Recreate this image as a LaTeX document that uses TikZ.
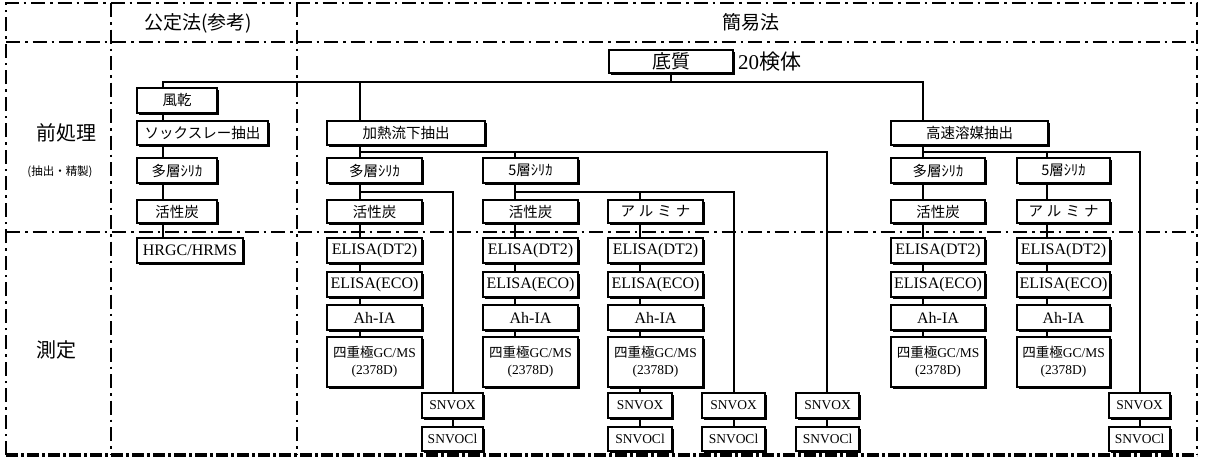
\documentclass[tikz,border=0pt]{standalone}
\usepackage{fontspec}
\setmainfont{Liberation Serif}
\newfontfamily\jp{Noto Sans CJK JP}
\usetikzlibrary{shadows}
\pgfdeclarelayer{bg}
\pgfsetlayers{bg,main}
\tikzset{
 bx/.style={draw, line width=1.5pt, fill=white, inner sep=0pt, outer sep=0pt, anchor=north west, align=center,
   drop shadow={shadow xshift=1.8pt, shadow yshift=-1.8pt, fill=black, opacity=1}},
 conn/.style={line width=1.3pt},
 div/.style={line width=1.5pt, dash pattern=on 14pt off 5pt on 2.5pt off 5pt},
 lat/.style={font=\fontsize{16}{18}\selectfont},
 jpt/.style={font=\jp\fontsize{14.5}{16}\selectfont},
 sm/.style={font=\fontsize{13.5}{16}\selectfont},
 gc/.style={font=\fontsize{13.5}{17}\selectfont},
}
\newcommand{\mybox}[7][lat]{\node[bx,#1,minimum width={(#5-#3)*1pt},minimum height={(#6-#4)*1pt}] (#2) at (#3,#4) {#7};}
\newcommand{\alm}{ア\hspace{4pt}ル\hspace{4pt}ミ\hspace{4pt}ナ}
\newcommand{\gcms}{{\jp 四重極}GC/MS\\(2378D)}
\begin{document}
\begin{tikzpicture}[x=1pt,y=-1pt]
\useasboundingbox (0,0) rectangle (1205,461);
% header & labels
\node[font=\jp\fontsize{19}{21}\selectfont] (hdA) at (198,23) {公定法(参考)};
\node[font=\jp\fontsize{19}{21}\selectfont] (hdB) at (751,22) {簡易法};
\node[font=\jp\fontsize{20}{22}\selectfont] (lab1) at (66,133) {前処理};
\node[font=\jp\fontsize{11.5}{13}\selectfont] (lab2) at (60,172) {(抽出・精製)};
\node[font=\jp\fontsize{20}{22}\selectfont] (lab3) at (56,350) {測定};
% top
\mybox[jpt,font=\jp\fontsize{19}{21}\selectfont]{tei}{609}{50}{733}{73}{底質}
\node[anchor=west, font=\fontsize{21}{24}\selectfont, inner sep=0pt] (cnt) at (738,62) {20{\jp 検体}};
% column A
\mybox[jpt]{a1}{137}{88}{217}{113}{風乾}
\mybox[jpt]{a2}{137}{121}{268}{145}{ソックスレー抽出}
\mybox[jpt]{a3}{137}{158}{217}{183}{多層ｼﾘｶ}
\mybox[jpt]{a4}{137}{200}{217}{223}{活性炭}
\mybox{a5}{137}{238}{243}{263}{HRGC/HRMS}
% middle group
\mybox[jpt]{k}{327}{121}{485}{145}{加熱流下抽出}
\mybox[jpt]{m1a}{327}{158}{422}{183}{多層ｼﾘｶ}
\mybox[jpt]{m1b}{327}{200}{422}{223}{活性炭}
\mybox{m1c}{327}{238}{422}{263}{ELISA(DT2)}
\mybox{m1d}{327}{272}{422}{297}{ELISA(ECO)}
\mybox{m1e}{327}{305}{422}{330}{Ah-IA}
\mybox[gc]{m1f}{327}{337}{422}{387}{\gcms}
\mybox[jpt]{m2a}{483}{158}{578}{183}{5層ｼﾘｶ}
\mybox[jpt]{m2b}{483}{200}{578}{223}{活性炭}
\mybox{m2c}{483}{238}{578}{263}{ELISA(DT2)}
\mybox{m2d}{483}{272}{578}{297}{ELISA(ECO)}
\mybox{m2e}{483}{305}{578}{330}{Ah-IA}
\mybox[gc]{m2f}{483}{337}{578}{387}{\gcms}
\mybox[jpt]{m3b}{608}{200}{703}{223}{\alm}
\mybox{m3c}{608}{238}{703}{263}{ELISA(DT2)}
\mybox{m3d}{608}{272}{703}{297}{ELISA(ECO)}
\mybox{m3e}{608}{305}{703}{330}{Ah-IA}
\mybox[gc]{m3f}{608}{337}{703}{387}{\gcms}
\mybox[sm]{s1}{422}{393}{483}{418}{SNVOX}
\mybox[sm]{s1b}{422}{427}{483}{451}{SNVOCl}
\mybox[sm]{s3}{608}{393}{672}{418}{SNVOX}
\mybox[sm]{s3b}{608}{427}{672}{451}{SNVOCl}
\mybox[sm]{s4}{702}{393}{765}{418}{SNVOX}
\mybox[sm]{s4b}{702}{427}{765}{451}{SNVOCl}
\mybox[sm]{s5}{796}{393}{859}{418}{SNVOX}
\mybox[sm]{s5b}{796}{427}{859}{451}{SNVOCl}
% right group
\mybox[jpt]{h}{891}{121}{1048}{145}{高速溶媒抽出}
\mybox[jpt]{r1a}{891}{158}{985}{183}{多層ｼﾘｶ}
\mybox[jpt]{r1b}{891}{200}{985}{223}{活性炭}
\mybox{r1c}{891}{238}{985}{263}{ELISA(DT2)}
\mybox{r1d}{891}{272}{985}{297}{ELISA(ECO)}
\mybox{r1e}{891}{305}{985}{330}{Ah-IA}
\mybox[gc]{r1f}{891}{337}{985}{387}{\gcms}
\mybox[jpt]{r2a}{1017}{158}{1110}{183}{5層ｼﾘｶ}
\mybox[jpt]{r2b}{1017}{200}{1110}{223}{\alm}
\mybox{r2c}{1017}{238}{1110}{263}{ELISA(DT2)}
\mybox{r2d}{1017}{272}{1110}{297}{ELISA(ECO)}
\mybox{r2e}{1017}{305}{1110}{330}{Ah-IA}
\mybox[gc]{r2f}{1017}{337}{1110}{387}{\gcms}
\mybox[sm]{s6}{1109}{393}{1170}{418}{SNVOX}
\mybox[sm]{s6b}{1109}{427}{1170}{451}{SNVOCl}
% coordinates
\coordinate (y82) at (0,82);
\coordinate (y152) at (0,152);
\coordinate (y192) at (0,192);
\coordinate (sA) at (163,0);
\coordinate (sM1) at (360,0);
\coordinate (sM2) at (515,0);
\coordinate (sM3) at (640,0);
\coordinate (sS1) at (453,0);
\coordinate (sS4) at (734,0);
\coordinate (sS5) at (827,0);
\coordinate (sR1) at (923,0);
\coordinate (sR2) at (1047,0);
\coordinate (sS6) at (1140,0);
\coordinate (TL) at (6,3);
\coordinate (BR) at (1197,455);
\coordinate (xc1) at (111,0);
\coordinate (xc2) at (297,0);
\coordinate (yh) at (0,42);
\coordinate (ym) at (0,232);
\begin{pgfonlayer}{bg}
% frame
\draw[div] (TL |- BR) -- (TL) -- (BR |- TL) -- (BR);
\draw[div, line width=3.5pt, dash pattern=on 12pt off 3pt on 3pt off 3pt] (TL |- BR) -- (BR);
\draw[div] (xc1 |- TL) -- (xc1 |- BR);
\draw[div] (xc2 |- TL) -- (xc2 |- BR);
\draw[div] (TL |- yh) -- (BR |- yh);
\draw[div] (TL |- ym) -- (BR |- ym);
% connectors
\draw[conn] (tei.south) -- (tei.south |- y82);
\draw[conn] (a5.north -| sA) -- (sA |- y82) -- (sR1 |- y82) -- (h.north -| sR1);
\draw[conn] (sM1 |- y82) -- (k.north -| sM1);
\draw[conn] (k.south -| sM1) -- (m1f.north -| sM1);
\draw[conn] (sM1 |- y152) -- (sS5 |- y152) -- (s5.north -| sS5);
\draw[conn] (sM2 |- y152) -- (m2f.north -| sM2);
\draw[conn] (sM1 |- y192) -- (sS1 |- y192) -- (s1.north -| sS1);
\draw[conn] (sM2 |- y192) -- (sS4 |- y192) -- (s4.north -| sS4);
\draw[conn] (sM3 |- y192) -- (s3b.north -| sM3);
\draw[conn] (s1.south -| sS1) -- (s1b.north -| sS1);
\draw[conn] (s4.south -| sS4) -- (s4b.north -| sS4);
\draw[conn] (s5.south -| sS5) -- (s5b.north -| sS5);
\draw[conn] (h.south -| sR1) -- (r1f.north -| sR1);
\draw[conn] (sR1 |- y152) -- (sS6 |- y152) -- (s6.north -| sS6);
\draw[conn] (sR2 |- y152) -- (r2f.north -| sR2);
\draw[conn] (s6.south -| sS6) -- (s6b.north -| sS6);
\end{pgfonlayer}
\end{tikzpicture}
\end{document}
